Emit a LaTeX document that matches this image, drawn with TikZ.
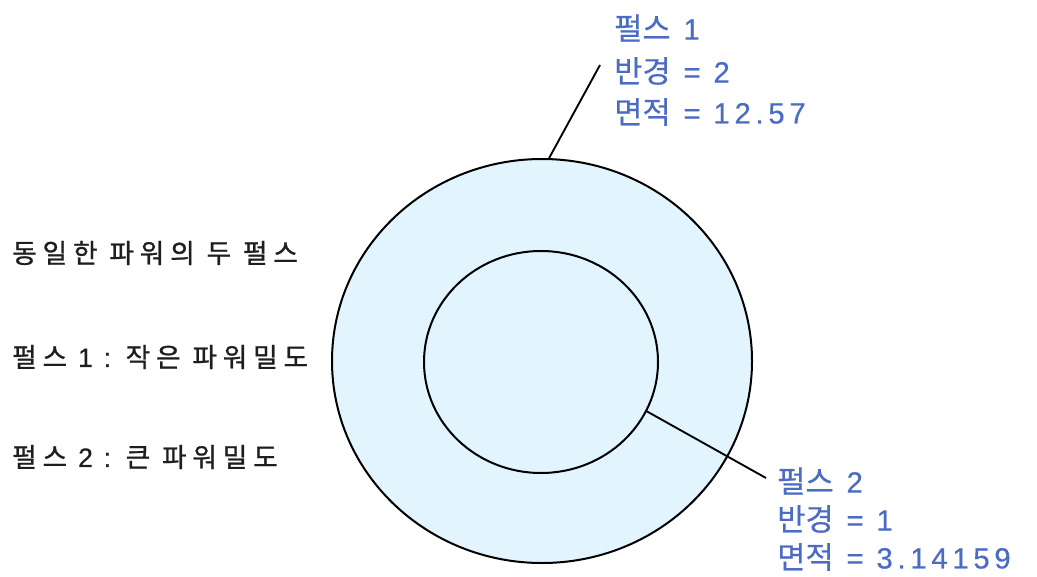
\documentclass[tikz,border=0pt]{standalone}
\usepackage{fontspec}
\setmainfont[LetterSpace=13,RawFeature={embolden=0.4}]{Liberation Sans}
\newfontfamily\latblue[LetterSpace=16,RawFeature={embolden=0.4}]{Liberation Sans}
\newfontfamily\koblue[RawFeature={embolden=0.5}]{Noto Sans CJK KR}
\newfontfamily\koleft[LetterSpace=22,RawFeature={embolden=1.0}]{Noto Sans CJK KR}
\newcommand\hgb[1]{{\koblue\fontsize{23}{28}\selectfont #1}}
\newcommand\hgl[1]{{\koleft\fontsize{20}{24}\selectfont #1}}
\usetikzlibrary{shapes.geometric}
\definecolor{lblue}{RGB}{76,108,196}
\definecolor{ringfill}{RGB}{226,244,253}
\definecolor{dtext}{RGB}{30,30,30}
\tikzset{
  disk/.style={ellipse, draw=black, line width=1.5pt, fill=ringfill, inner sep=0pt},
  bluelbl/.style={anchor=west, inner sep=0pt, text=lblue, font=\latblue\fontsize{22}{26}\selectfont},
  darklbl/.style={anchor=west, inner sep=0pt, text=dtext, font=\fontsize{20}{24}\selectfont},
  leader/.style={draw=black, line width=1.4pt}
}
\begin{document}
\begin{tikzpicture}[x=0.75pt,y=-0.75pt]
\useasboundingbox (0,0) rectangle (1037,577);
\node[disk, minimum width=315pt, minimum height=303pt] (outer) at (542,361) {};
\node[disk, minimum width=175.5pt, minimum height=166.5pt] (inner) at (541,362) {};
% labels pulse 1
\node[bluelbl] (p1a) at (614,28) {\hgb{펄스} 1};
\node[bluelbl] (p1b) at (614,71) {\hgb{반경} = 2};
\node[bluelbl] (p1c) at (614,112) {\hgb{면적} = 12.57};
% labels pulse 2
\node[bluelbl] (p2a) at (777,481) {\hgb{펄스} 2};
\node[bluelbl] (p2b) at (777,519) {\hgb{반경} = 1};
\node[bluelbl] (p2c) at (777,557) {\hgb{면적} = 3.14159};
% left texts
\node[darklbl] (t1) at (12,253) {\hgl{동일한 파워의 두 펄스}};
\node[darklbl] (t2) at (12,357) {\hgl{펄스} 1 : \hgl{작은 파워밀도}};
\node[darklbl] (t3) at (12,457) {\hgl{펄스} 2 : \hgl{큰 파워밀도}};
% leaders
\coordinate (e1) at (600,65);
\coordinate (e2) at (766,478);
\draw[leader] (outer.88) -- (e1);
\draw[leader] (inner.-25) -- (e2);
\end{tikzpicture}
\end{document}
